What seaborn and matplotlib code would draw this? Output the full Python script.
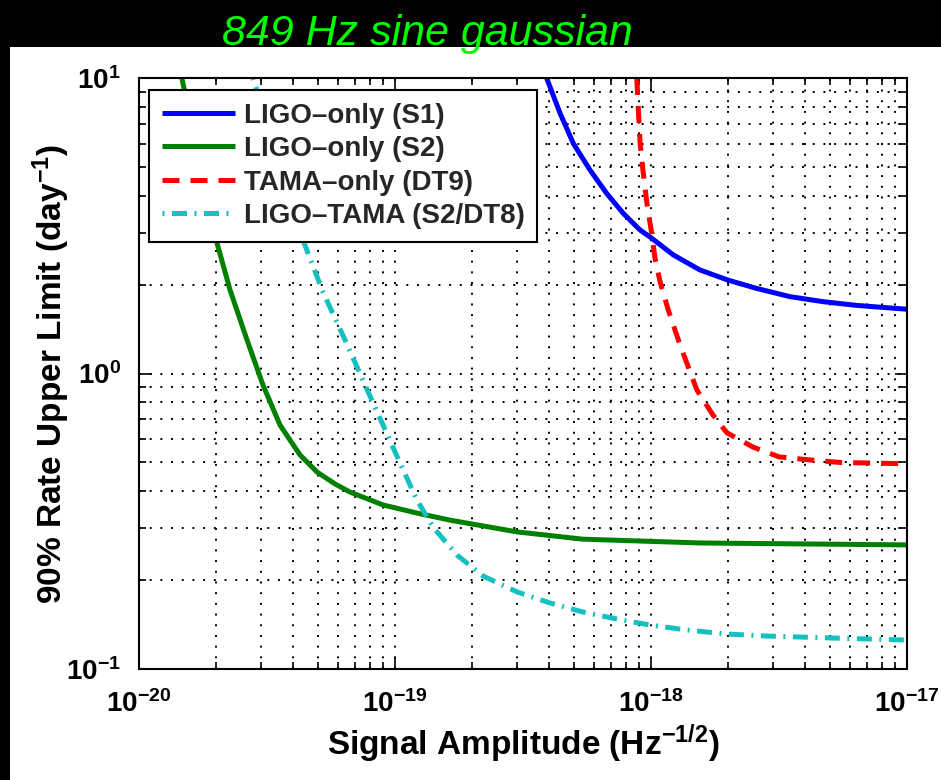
import matplotlib
matplotlib.use("Agg")
import matplotlib.pyplot as plt
from matplotlib import font_manager
from matplotlib.patches import Rectangle
import seaborn as sns

# ---------------- data ----------------
title_text = "849 Hz sine gaussian"
x_label = "Signal Amplitude (Hz$^{-1/2}$)"
y_label = "90% Rate Upper Limit (day$^{-1}$)"

xticks = [1e-20, 1e-19, 1e-18, 1e-17]
xtick_labels = ["$10^{-20}$", "$10^{-19}$", "$10^{-18}$", "$10^{-17}$"]
yticks = [1e-1, 1e0, 1e1]
ytick_labels = ["$10^{-1}$", "$10^{0}$", "$10^{1}$"]

labels = ["LIGO\u2013only (S1)", "LIGO\u2013only (S2)", "TAMA\u2013only (DT9)", "LIGO\u2013TAMA (S2/DT8)"]

s1_x = [3.91e-19, 4.41e-19, 4.97e-19, 5.78e-19, 6.71e-19, 7.80e-19, 9.06e-19,
        1.006e-18, 1.222e-18, 1.554e-18, 2.00e-18, 2.59e-18, 3.49e-18, 4.71e-18,
        6.36e-18, 1.0e-17]
s1_y = [10, 7.61, 6.01, 4.88, 4.07, 3.48, 3.06, 2.87, 2.52, 2.24, 2.07, 1.94,
        1.82, 1.75, 1.70, 1.65]

s2_x = [1.47e-20, 2.017e-20, 2.268e-20, 2.642e-20, 3.05e-20, 3.555e-20, 4.256e-20,
        4.96e-20, 5.83e-20, 6.67e-20, 8.98e-20, 1.219e-19, 1.64e-19, 3.0e-19,
        5.42e-19, 1.554e-18, 1.0e-17]
s2_y = [10, 2.765, 1.917, 1.299, 0.914, 0.669, 0.530, 0.464, 0.423, 0.397, 0.359,
        0.337, 0.319, 0.291, 0.275, 0.267, 0.263]

dt9_x = [8.80e-19, 9.06e-19, 9.33e-19, 9.62e-19, 1.006e-18, 1.037e-18, 1.084e-18,
         1.168e-18, 1.29e-18, 1.51e-18, 1.746e-18, 1.98e-18, 2.50e-18, 3.17e-18,
         4.18e-18, 5.47e-18, 1.0e-17]
dt9_y = [10, 6.05, 4.76, 3.81, 2.98, 2.45, 2.05, 1.64, 1.27, 0.88, 0.724, 0.63,
         0.564, 0.522, 0.51, 0.50, 0.495]

lt_x = [2.788e-20, 4.37e-20, 5.23e-20, 6.38e-20, 7.64e-20, 8.98e-20, 1.046e-19,
        1.219e-19, 1.408e-19, 1.747e-19, 2.207e-19, 3.0e-19, 4.03e-19, 5.42e-19,
        7.37e-19, 9.91e-19, 1.382e-18, 1.982e-18, 2.84e-18, 5.14e-18, 1.0e-17]
lt_y = [10, 2.83, 1.887, 1.299, 0.914, 0.669, 0.498, 0.373, 0.302, 0.243, 0.2064,
        0.1823, 0.1673, 0.1559, 0.1476, 0.1409, 0.1355, 0.1313, 0.1293, 0.1273,
        0.1253]

colors = ["#0000ff", "#008000", "#ff0000", "#17c0c0"]

# ---------------- style ----------------
sns.set_style("white")
names = {f.name for f in font_manager.fontManager.ttflist}
if "Liberation Sans Narrow" in names:
    label_font = "Liberation Sans Narrow"
    lab_size, tick_size = 27, 22
else:
    label_font = "Liberation Sans"
    lab_size, tick_size = 24, 20

plt.rcParams["font.family"] = [label_font, "Liberation Sans", "DejaVu Sans"]
plt.rcParams["mathtext.fontset"] = "custom"
plt.rcParams["mathtext.bf"] = label_font + ":bold"
plt.rcParams["mathtext.rm"] = label_font + ":bold"
plt.rcParams["mathtext.default"] = "bf"

W, H = 941, 780
fig = plt.figure(figsize=(W / 100, H / 100), dpi=100, facecolor="black")
fig.add_artist(Rectangle((10 / W, 0), 1, (H - 47) / H, transform=fig.transFigure,
                         facecolor="white", edgecolor="none", zorder=0))

ax_l, ax_r, ax_t, ax_b = 139, 907, 78, 669
ax = fig.add_axes([ax_l / W, (H - ax_b) / H, (ax_r - ax_l) / W, (ax_b - ax_t) / H])

series = [(s1_x, s1_y), (s2_x, s2_y), (dt9_x, dt9_y), (lt_x, lt_y)]
styles = ["-", "-", (0, (3.4, 2.2)), (0, (0.4, 1.5, 3.0, 1.5))]
for (xs, ys), c, ls, lab in zip(series, colors, styles, labels):
    sns.lineplot(x=xs, y=ys, ax=ax, color=c, linewidth=3.6, label=lab,
                 sort=False, estimator=None)
    ax.lines[-1].set_linestyle(ls)
    ax.lines[-1].set_solid_capstyle("butt")
    ax.lines[-1].set_dash_capstyle("butt")
    ax.lines[-1].set_solid_joinstyle("round")

ax.set_xscale("log")
ax.set_yscale("log")
ax.set_xlim(1e-20, 1e-17)
ax.set_ylim(1e-1, 1e1)
ax.set_xticks(xticks, xtick_labels)
ax.set_yticks(yticks, ytick_labels)
ax.xaxis.set_minor_formatter(matplotlib.ticker.NullFormatter())
ax.yaxis.set_minor_formatter(matplotlib.ticker.NullFormatter())

ax.grid(True, which="both", color="black", linestyle=(0, (1, 4.5)), linewidth=1.4)
ax.set_axisbelow(True)
ax.tick_params(which="both", direction="in", top=True, right=True,
               bottom=True, left=True, colors="black", width=1.2)
ax.tick_params(which="major", length=9, labelsize=tick_size)
ax.tick_params(axis="x", which="major", pad=15)
ax.tick_params(axis="y", which="major", pad=13)
ax.tick_params(which="minor", length=5)
for t in ax.get_xticklabels() + ax.get_yticklabels():
    t.set_fontweight("bold")
for s in ax.spines.values():
    s.set_visible(True)
    s.set_color("black")
    s.set_linewidth(1.5)

ax.set_xlabel(x_label, fontsize=lab_size, fontweight="bold", color="black")
ax.set_ylabel(y_label, fontsize=lab_size, fontweight="bold", color="black")
ax.xaxis.set_label_coords(0.5, (ax_b - 722) / (ax_b - ax_t))
ax.yaxis.set_label_coords((72 - ax_l) / (ax_r - ax_l), 0.5)

leg = ax.legend(loc="upper left",
                bbox_to_anchor=((149 - ax_l) / (ax_r - ax_l), (ax_b - 90) / (ax_b - ax_t)),
                borderaxespad=0, fancybox=False, framealpha=1, edgecolor="black",
                handlelength=2.65, handletextpad=0.32, labelspacing=0.27, borderpad=0.45,
                prop={"family": "Liberation Sans", "weight": "bold", "size": 20})
leg.get_frame().set_linewidth(1.5)

fig.text(427 / W, (H - 45) / H, title_text, color="#00ff00", fontsize=31,
         style="italic", ha="center", va="baseline", family="Liberation Sans", zorder=5)

fig.savefig("out.png", dpi=100, facecolor=fig.get_facecolor())
